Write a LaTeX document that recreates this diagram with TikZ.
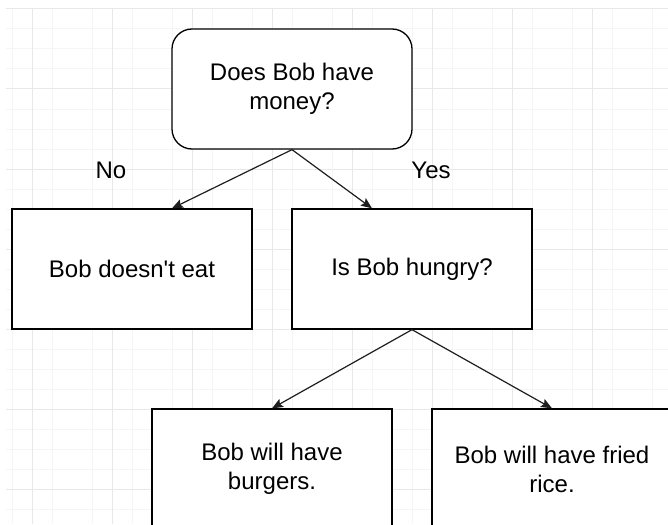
\documentclass[tikz,border=0pt]{standalone}
\usepackage{fontspec}
\setmainfont{Liberation Sans}
\usetikzlibrary{positioning,arrows.meta}

\definecolor{gridminor}{RGB}{245,245,245}
\definecolor{gridmajor}{RGB}{232,232,232}
\definecolor{edgecol}{RGB}{30,30,30}

\begin{document}
\begin{tikzpicture}[x=1pt,y=-1pt,
	font=\fontsize{24}{29}\selectfont,
	question/.style={draw, line width=1.3pt, rounded corners=20pt, minimum width=240pt, minimum height=120pt, align=center, inner sep=0pt, fill=white},
	answer/.style={draw, line width=1.3pt, minimum width=240pt, minimum height=120pt, align=center, inner sep=0pt, fill=white},
	flow/.style={draw=edgecol, line width=1.2pt, -{Stealth[length=11pt,width=9pt,inset=2pt]}},
	choice/.style={inner sep=0pt}]
 	\clip (0,0) rectangle (668,524);
 	\fill[white] (0,0) rectangle (668,524);
 	
 	% Grid
 	\foreach \x in {12,52,...,652} \draw[gridminor, line width=1pt] (\x,8) -- (\x,524);
 	\foreach \y in {29,49,69,109,129,149,189,209,229,269,289,309,349,369,389,429,449,469,509} \draw[gridminor, line width=1pt] (6,\y) -- (668,\y);
 	\foreach \x in {32,112,...,592} \draw[gridmajor, line width=1pt] (\x,8) -- (\x,524);
 	\foreach \y in {9,89,...,489} \draw[gridmajor, line width=1pt] (6,\y) -- (668,\y);
 	
 	\node[question] (money) at (292,89) {Does Bob have\\money?};
 	\node[answer] (noeat) at (132,269) {Bob doesn\textquotesingle t eat};
 	\node[answer] (hungry) at (412,269) {Is Bob hungry?};
 	\node[answer] (burgers) at (272,469) {Bob will have\\burgers.};
 	\node[answer] (rice) at (552,469) {Bob will have fried\\rice.};
 	
 	\node[choice] (no) at (111,170) {No};
 	\node[choice] (yes) at (431,170) {Yes};
 	
 	% Decisions
 	\draw[flow] (money.south) -- ([xshift=40]noeat.north);
 	\draw[flow] (money.south) -- ([xshift=-40]hungry.north);
 	\draw[flow] (hungry.south) -- (burgers.north);
 	\draw[flow] (hungry.south) -- (rice.north);
\end{tikzpicture}
\end{document}
